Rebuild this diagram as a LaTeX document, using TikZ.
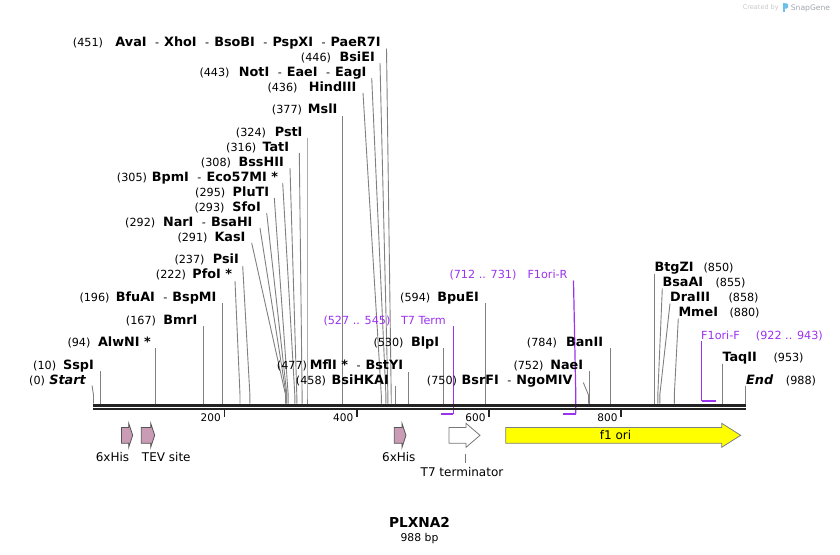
\documentclass[tikz,border=0pt]{standalone}
\usepackage{fontspec}
\setmainfont{DejaVu Sans}
\definecolor{cutc}{RGB}{128,128,128}
\definecolor{primc}{RGB}{155,50,240}
\definecolor{bbc}{RGB}{35,35,35}
\definecolor{pinkc}{RGB}{201,155,180}
\definecolor{pinkd}{RGB}{85,85,85}
\definecolor{whited}{RGB}{120,120,120}
\definecolor{yelc}{RGB}{255,255,0}
\definecolor{yeld}{RGB}{128,128,128}
\definecolor{wmc}{RGB}{200,200,200}
\definecolor{wmc2}{RGB}{160,166,172}
\definecolor{logoc}{RGB}{110,190,235}
\newcommand\enzsep{\hspace{8.5pt}{\mdseries\fontsize{11.2}{13}\selectfont -}\hspace{5pt}}
\newcommand\cutl[3]{\coordinate (t#1) at (#2); \coordinate (s#1) at (#3,403.5); \draw[cut] (t#1) -- ([yshift=8.5pt]s#1) -- (s#1);}
\newcommand\llab[5]{\node[num] (n#1) at (#2,#4) {(#1)}; \node[enz] (e#1) at (#3,#4) {#5};}
\newcommand\rlab[5]{\node[enzr] (e#1) at (#2,#4) {#5}; \node[num] (n#1) at (#3,#4) {(#1)};}
\newcommand\farrow[5]{\draw[fill=#4, draw=#5, line width=0.8pt] (#1,427.5) -- ({#2-#3},427.5) -- ({#2-#3},423.3) -- (#2,435.3) -- ({#2-#3},447.3) -- ({#2-#3},443.3) -- (#1,443.3) -- cycle;}
\begin{document}
\begin{tikzpicture}[x=1pt,y=-1pt,
  num/.style={font=\fontsize{11.2}{13}\selectfont, inner sep=0pt, anchor=base west},
  enz/.style={font=\fontsize{12.8}{14}\selectfont\bfseries, inner sep=0pt, anchor=base east},
  enzr/.style={enz, anchor=base west},
  primw/.style={font=\fontsize{11.2}{13}\selectfont, text=primc, inner sep=0pt, anchor=base west},
  prime/.style={primw, anchor=base east},
  cut/.style={draw=cutc, line width=0.9pt},
  primline/.style={draw=primc, line width=1.2pt},
  primbar/.style={draw=primc, line width=2pt},
  tick/.style={draw=bbc, line width=1.8pt},
  ticklab/.style={font=\fontsize{10.5}{12}\selectfont, inner sep=0pt, anchor=base east},
  featlab/.style={font=\fontsize{12}{14}\selectfont, inner sep=0pt, anchor=base}]
\useasboundingbox (0,0) rectangle (840,554);

% cut-site connectors
\cutl{451}{386.5,48.5}{391.2}
\cutl{446}{380,63}{387.9}
\cutl{443}{371.7,78}{385.9}
\cutl{436}{363,93}{381.3}
\cutl{377}{342.5,116}{342.5}
\cutl{324}{307,138}{307}
\cutl{316}{299.3,153}{302.1}
\cutl{308}{290,168}{296.8}
\cutl{305}{282.7,183}{294.8}
\cutl{295}{274.3,198}{288.2}
\cutl{293}{266.7,213}{286.9}
\cutl{292}{260,228}{286.2}
\cutl{291}{251.7,243}{285.6}
\cutl{237}{242.7,266}{249.9}
\cutl{222}{235,281}{240}
\cutl{196}{222.7,303}{222.7}
\cutl{167}{203.5,326}{203.5}
\cutl{94}{155.6,348}{155.6}
\cutl{10}{100.2,371}{100.2}
\cutl{0}{92,385.5}{93.5}
\cutl{477}{408.2,372}{408.2}
\cutl{458}{395.5,386}{395.5}
\cutl{530}{443.3,348}{443.3}
\cutl{594}{485.6,303}{485.6}
\cutl{750}{583.3,382.5}{588.5}
\cutl{752}{589.5,371}{589.5}
\cutl{784}{610.8,348}{610.8}
\cutl{850}{654.5,273.5}{654.5}
\cutl{855}{662.3,288.5}{657.8}
\cutl{858}{670,303.5}{659.8}
\cutl{880}{678.3,318.5}{674.3}
\cutl{953}{722.5,363.5}{722.5}
\cutl{988}{745.8,386}{745.8}

% primers
\coordinate (pT7top) at (453.3,326);
\coordinate (pT7end) at (453.3,413.5);
\coordinate (pT7start) at (441.3,413.5);
\draw[primline] (pT7top) -- (pT7end);
\draw[primbar] (pT7start) -- (pT7end);
\coordinate (pRtop) at (573.5,280.5);
\coordinate (pRmid) at (575.8,395);
\coordinate (pRend) at (575.8,413.5);
\coordinate (pRstart) at (563.4,413.5);
\draw[primline] (pRtop) -- (pRmid) -- (pRend);
\draw[primbar] (pRstart) -- (pRend);
\coordinate (pFtop) at (701.5,341);
\coordinate (pFend) at (701.5,400.5);
\coordinate (pFstop) at (715.9,400.5);
\draw[primline] (pFtop) -- (pFend);
\draw[primbar] (pFend) -- (pFstop);

% backbone
\draw[draw=bbc, line width=2.6pt] (93,405.2) -- (746,405.2);
\draw[draw=bbc, line width=2.6pt] (93,408.8) -- (746,408.8);

% ticks
\foreach \tx/\tl in {224.5/200, 357/400, 489.3/600, 621.3/800}{
  \draw[tick] (\tx,410) -- (\tx,417.3);
  \node[ticklab] (tk\tl) at (\tx-3.6,421.5) {\tl};
}

% features
\farrow{121.5}{132.7}{4}{pinkc}{pinkd}
\farrow{141.3}{154.7}{4}{pinkc}{pinkd}
\farrow{394.3}{406}{4}{pinkc}{pinkd}
\farrow{449}{480}{14}{white}{whited}
\farrow{505.7}{740.7}{19}{yelc}{yeld}
\node[featlab] (fHis1) at (112.5,461) {6xHis};
\node[featlab] (fTEV) at (166.3,461) {TEV site};
\node[featlab] (fHis2) at (398.8,461) {6xHis};
\node[featlab] (fT7) at (462,476.5) {T7 terminator};
\coordinate (fT7bot) at (465.3,454);
\coordinate (fT7top) at ([yshift=4pt]fT7.north);
\draw[draw=whited, line width=0.8pt] (fT7bot) -- (fT7bot |- fT7top);
\node[featlab] (ff1) at (615.5,439.5) {f1 ori};

% left labels
\llab{451}{72.7}{380.7}{46}{AvaI\enzsep XhoI\enzsep BsoBI\enzsep PspXI\enzsep PaeR7I}
\llab{446}{300.7}{375}{61}{BsiEI}
\llab{443}{199.3}{366.7}{76}{NotI\enzsep EaeI\enzsep EagI}
\llab{436}{267.3}{356.7}{91}{HindIII}
\llab{377}{271.7}{337.7}{113.5}{MslI}
\llab{324}{235.7}{302.7}{136}{PstI}
\llab{316}{226}{289.3}{151}{TatI}
\llab{308}{200.7}{284}{166}{BssHII}
\llab{305}{116.7}{278.3}{181}{BpmI\enzsep Eco57MI *}
\llab{295}{195}{269.3}{196}{PluTI}
\llab{293}{194.3}{261}{211}{SfoI}
\llab{292}{125}{252.7}{226}{NarI\enzsep BsaHI}
\llab{291}{177.3}{245.7}{241}{KasI}
\llab{237}{174.3}{239}{263.5}{PsiI}
\llab{222}{155.7}{232.3}{278.5}{PfoI *}
\llab{196}{79.3}{216.7}{301}{BfuAI\enzsep BspMI}
\llab{167}{125.7}{197.7}{324}{BmrI}
\llab{94}{67.3}{151}{346}{AlwNI *}
\llab{10}{33}{94}{369}{SspI}
\llab{0}{29}{86}{384}{\itshape Start}
\llab{477}{276.7}{403.3}{369}{MflI *\enzsep BstYI}
\llab{458}{295.7}{389}{384}{BsiHKAI}
\llab{530}{373.3}{439.3}{346}{BlpI}
\llab{594}{400}{479}{301}{BpuEI}
\llab{750}{426.7}{572.7}{384}{BsrFI\enzsep NgoMIV}
\llab{752}{513.3}{583.3}{369}{NaeI}
\llab{784}{526.7}{603.3}{346}{BanII}

% right labels
\rlab{850}{654.3}{703.3}{271}{BtgZI}
\rlab{855}{662.3}{715.3}{286}{BsaAI}
\rlab{858}{670}{728.3}{301}{DraIII}
\rlab{880}{678.3}{729.3}{316}{MmeI}
\rlab{953}{722.3}{773.3}{361}{TaqII}
\rlab{988}{746}{785.7}{384}{\itshape End}

% primer labels
\node[primw] (lT7n) at (323.3,324) {(527 .. 545)};
\node[prime] (lT7) at (446,324) {T7 Term};
\node[primw] (lRn) at (449.3,278.5) {(712 .. 731)};
\node[prime] (lR) at (567.7,278.5) {F1ori-R};
\node[primw] (lF) at (701,339) {F1ori-F};
\node[primw] (lFn) at (755.7,339) {(922 .. 943)};

% title
\node[font=\fontsize{13.7}{16}\selectfont\bfseries, inner sep=0pt, anchor=base] (title) at (419.5,527.7) {PLXNA2};
\node[font=\fontsize{10.8}{13}\selectfont, inner sep=0pt, anchor=base] (len) at (419.5,541) {988 bp};

% watermark
\node[font=\fontsize{6.5}{8}\selectfont, text=wmc, inner sep=0pt, anchor=base west] (wm1) at (742.7,9.3) {Created by};
\fill[logoc, rounded corners=1.2pt] (782.8,3.3) rectangle (788,8.6);
\fill[logoc] (782.8,3.3) rectangle (784.9,12.3);
\node[font=\fontsize{7.6}{9}\selectfont, text=wmc2, inner sep=0pt, anchor=base west] (wm2) at (790.7,10) {SnapGene};
\end{tikzpicture}
\end{document}
